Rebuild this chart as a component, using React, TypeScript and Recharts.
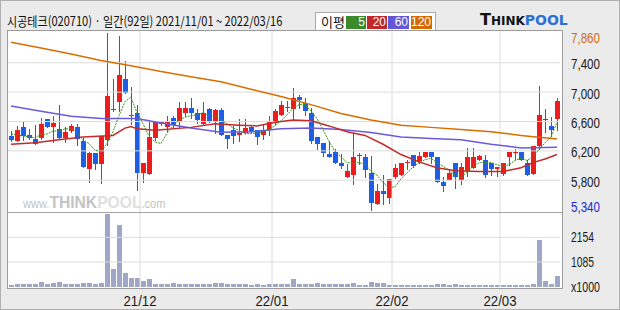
import { Bar, ComposedChart, Line, ReferenceLine, XAxis, YAxis } from 'recharts';

// daily candles, 2021/11/01 ~ 2022/03/16 (92 trading days)
const openP = [
  6400, 6340, 6520, 6420, 6360, 6370, 6630, 6530, 6500, 6370,
  6470, 6520, 6330, 5950, 6170, 6020, 6350, 6750, 6860, 7180,
  6690, 6710, 5900, 5880, 6380, 6570, 6530, 6650, 6590, 6720,
  6780, 6710, 6560, 6770, 6600, 6750, 6420, 6480, 6420, 6450,
  6530, 6490, 6410, 6480, 6580, 6690, 6800, 6770, 6930, 6850,
  6710, 6390, 6310, 6160, 6190, 6040, 5840, 5870, 6130, 6120,
  5900, 5480, 5660, 5560, 5840, 5870, 6030, 6140, 6060, 6120,
  6190, 6120, 5780, 5800, 6040, 5800, 5930, 5960, 6080, 6080,
  6030, 5950, 5880, 6110, 6180, 6190, 6040, 5890, 6260, 6640,
  6540, 6630,
];
const highP = [
  6470, 6540, 6590, 6500, 6550, 6650, 6630, 6680, 6820, 6520,
  6570, 6560, 6380, 6180, 6170, 6400, 7800, 7180, 7770, 7420,
  7070, 6830, 6040, 6610, 6610, 6610, 6670, 6670, 6870, 6870,
  6920, 6770, 6870, 6790, 6770, 6780, 6420, 6540, 6630, 6640,
  6540, 6490, 6550, 6680, 6770, 6880, 6880, 7050, 6960, 6920,
  6790, 6390, 6310, 6340, 6220, 6160, 6020, 6440, 6170, 6160,
  6130, 5750, 5870, 5820, 6020, 6040, 6070, 6140, 6180, 6190,
  6190, 6120, 5840, 5950, 6040, 6040, 6240, 6240, 6150, 6140,
  6030, 5980, 6040, 6190, 6220, 6190, 6080, 6260, 7080, 6770,
  6660, 6920,
];
const lowP = [
  6340, 6330, 6350, 6360, 6300, 6360, 6520, 6320, 6370, 6320,
  6460, 6280, 5980, 5780, 5950, 5760, 6280, 6740, 6740, 6990,
  6560, 5670, 5770, 5880, 6350, 6550, 6470, 6520, 6530, 6670,
  6650, 6580, 6560, 6600, 6440, 6420, 6240, 6310, 6340, 6450,
  6450, 6300, 6360, 6410, 6560, 6690, 6740, 6620, 6790, 6690,
  6310, 6220, 6130, 6110, 6030, 5960, 5840, 5750, 6020, 5840,
  5390, 5470, 5470, 5490, 5830, 5870, 5950, 5980, 6040, 6110,
  6040, 5770, 5650, 5800, 5700, 5750, 5860, 5960, 6070, 5840,
  5870, 5860, 5870, 6010, 6090, 6070, 5870, 5890, 6220, 6460,
  6400, 6490,
];
const closeP = [
  6350, 6490, 6400, 6370, 6300, 6560, 6530, 6580, 6370, 6460,
  6540, 6360, 5980, 6170, 6020, 6400, 6950, 6770, 7240, 6990,
  6680, 5900, 6040, 6390, 6590, 6600, 6590, 6550, 6780, 6780,
  6710, 6620, 6710, 6600, 6760, 6420, 6360, 6400, 6450, 6510,
  6460, 6390, 6490, 6610, 6740, 6830, 6790, 6920, 6890, 6740,
  6340, 6300, 6170, 6110, 6030, 5990, 5920, 6120, 6150, 5940,
  5490, 5650, 5610, 5820, 5970, 6040, 6050, 6000, 6130, 6190,
  6120, 5780, 5720, 5900, 5840, 5980, 6120, 6120, 6130, 5870,
  5950, 5980, 6040, 6190, 6190, 6080, 5870, 6260, 6690, 6630,
  6480, 6880,
];
// volume, x1000 shares
const volume = [
  90, 110, 110, 120, 140, 230, 150, 180, 230, 110,
  110, 110, 190, 190, 120, 190, 3180, 790, 2700, 620,
  400, 400, 240, 350, 130, 130, 130, 170, 150, 150,
  130, 120, 120, 120, 180, 180, 130, 130, 120, 120,
  90, 140, 70, 140, 130, 130, 130, 360, 150, 130,
  150, 170, 150, 140, 130, 140, 130, 190, 70, 100,
  230, 160, 190, 100, 90, 70, 70, 100, 70, 70,
  70, 150, 110, 90, 110, 90, 70, 70, 70, 70,
  70, 70, 70, 100, 100, 70, 100, 150, 2050, 240,
  150, 460,
];
// moving averages
const ma5 = [
  6430, 6420, 6400, 6390, 6380, 6420, 6430, 6470, 6470, 6500,
  6500, 6460, 6340, 6300, 6210, 6190, 6300, 6460, 6680, 6870,
  6930, 6720, 6570, 6400, 6320, 6300, 6440, 6540, 6620, 6660,
  6680, 6690, 6720, 6680, 6680, 6620, 6570, 6510, 6480, 6430,
  6440, 6440, 6460, 6490, 6540, 6610, 6690, 6780, 6830, 6830,
  6740, 6640, 6490, 6330, 6190, 6120, 6040, 6030, 6040, 6020,
  5920, 5870, 5770, 5700, 5710, 5820, 5900, 5980, 6040, 6080,
  6100, 6040, 5990, 5940, 5870, 5840, 5910, 5990, 6040, 6040,
  6040, 6010, 5990, 6010, 6070, 6100, 6070, 6120, 6220, 6310,
  6390, 6590,
];
const ma20Pts: [number, number][] = [
  [0, 6290], [4, 6310], [8, 6350], [12, 6390], [17, 6410], [19, 6510], [20, 6530],
  [21, 6500], [24, 6480], [30, 6520], [34, 6570], [38, 6550], [41, 6540], [44, 6590],
  [47, 6620], [50, 6610], [53, 6540], [56, 6460], [59, 6410], [62, 6290], [65, 6150],
  [68, 6050], [71, 5970], [74, 5930], [78, 5920], [82, 5920], [85, 5970], [87, 6040],
  [89, 6090], [91, 6150],
];
const ma60Pts: [number, number][] = [
  [0, 6810], [5, 6740], [10, 6670], [15, 6640], [21, 6640], [25, 6580], [30, 6510],
  [35, 6455], [40, 6460], [45, 6500], [50, 6510], [55, 6490], [60, 6450], [65, 6390],
  [70, 6370], [75, 6350], [80, 6290], [85, 6240], [91, 6250],
];
const ma120Pts: [number, number][] = [
  [0, 7680], [5, 7600], [10, 7520], [15, 7430], [20, 7360], [25, 7280], [30, 7210],
  [35, 7140], [40, 7040], [45, 6940], [50, 6830], [55, 6710], [60, 6620], [65, 6550],
  [70, 6520], [75, 6490], [80, 6460], [85, 6410], [91, 6360],
];

const priceTicks = [5340, 5800, 6200, 6600, 7000, 7400, 7860];
const priceGrid = [5800, 6200, 6600, 7000, 7400];
const volumeTicks = [0, 1085, 2154];
const monthStarts = [22, 44, 64, 82];
const monthLabels = ['21/12', '22/01', '22/02', '22/03'];

const RED = '#ee1c1c';
const BLUE = '#1e5ee6';
const VOL = '#a0a7c6';
const GRID = '#dcdcdc';
const MA_COLORS = { ma5: '#3a9418', ma20: '#c42a2a', ma60: '#6a5ae0', ma120: '#d96d00' };

const pick = (pts: [number, number][], i: number) => {
  const hit = pts.find((p) => p[0] === i);
  return hit ? hit[1] : null;
};

const rows = openP.map((open, i) => ({
  day: i,
  open,
  high: highP[i],
  low: lowP[i],
  close: closeP[i],
  vol: volume[i],
  ma5: ma5[i],
  ma20: pick(ma20Pts, i),
  ma60: pick(ma60Pts, i),
  ma120: pick(ma120Pts, i),
}));

function Candle(props: any) {
  const { x, y, width, height, payload } = props;
  const { open, close, high, low } = payload;
  const color = close >= open ? RED : BLUE;
  const top = Math.min(y, y + height);
  const h = Math.abs(height);
  const k = high > low ? h / (high - low) : 0;
  const py = (v: number) => top + (high - v) * k;
  const cx = Math.round(x + width / 2);
  const b0 = Math.round(py(Math.max(open, close)));
  const b1 = Math.round(py(Math.min(open, close)));
  return (
    <g shapeRendering="crispEdges">
      <line x1={cx + 0.5} x2={cx + 0.5} y1={Math.round(top)} y2={Math.round(top + h) + 1} stroke={color} />
      <rect x={cx - 2} y={b0} width={5} height={Math.max(1, b1 - b0)} fill={color} />
    </g>
  );
}

function VolBar(props: any) {
  const { x, y, width, height } = props;
  const cx = Math.round(x + width / 2);
  return <rect x={cx - 2} y={y} width={5} height={height} fill={VOL} shapeRendering="crispEdges" />;
}

function PriceTick({ y, payload }: any) {
  const v = payload.value as number;
  const isTop = v === priceTicks[priceTicks.length - 1];
  const isBottom = v === priceTicks[0];
  const shift = isTop ? 9 : isBottom ? -7 : 1.5;
  const fill = isTop ? '#d26a10' : isBottom ? '#1a2ad0' : '#1a1a1a';
  return (
    <text x={571} y={y + shift + 5} fill={fill} fontSize={14} fontFamily="Liberation Sans"
      textLength={29} lengthAdjust="spacingAndGlyphs">
      {v.toLocaleString('en-US')}
    </text>
  );
}

function VolTick({ y, payload }: any) {
  const v = payload.value as number;
  const label = v === 0 ? 'x1000' : String(v);
  return (
    <text x={571} y={y + 5} fill="#1a1a1a" fontSize={14} fontFamily="Liberation Sans"
      textLength={v === 0 ? 29 : 23} lengthAdjust="spacingAndGlyphs">
      {label}
    </text>
  );
}

function DateTick({ x, payload }: any) {
  const idx = monthStarts.indexOf(payload.value);
  if (idx < 0) return null;
  return (
    <text x={x - 3} y={306} textAnchor="middle" fill="#1a1a1a" fontSize={14} fontFamily="Liberation Sans"
      textLength={33} lengthAdjust="spacingAndGlyphs">
      {monthLabels[idx]}
    </text>
  );
}

const legendItems = [
  { label: '5', color: '#3c8a2c', left: 346, w: 20 },
  { label: '20', color: '#c0282b', left: 367, w: 20 },
  { label: '60', color: '#6457d6', left: 388, w: 21 },
  { label: '120', color: '#d46a00', left: 411, w: 21 },
];

const abs = (left: number, top: number, extra: React.CSSProperties = {}): React.CSSProperties => ({
  position: 'absolute',
  left,
  top,
  ...extra,
});

export default function App() {
  return (
    <div style={{ position: 'relative', width: 620, height: 310, background: '#ebebeb', overflow: 'hidden' }}>
      <style>{'body{margin:0}'}</style>
      <div style={abs(0, 0, { width: 620, height: 310, boxSizing: 'border-box', border: '1px solid #b0b0b0' })} />

      <div style={abs(7, 12, {
        fontFamily: '"Noto Sans CJK KR"', fontSize: 13, lineHeight: '18px', color: '#111', whiteSpace: 'nowrap',
        transform: 'scaleX(0.85)', transformOrigin: 'left center',
      })}>
        시공테크(020710) · 일간(92일) 2021/11/01 ~ 2022/03/16
      </div>

      <div style={abs(315, 12, { width: 121, height: 19, boxSizing: 'border-box', border: '1px solid #a8a8a8', background: '#fff' })} />
      <div style={abs(321, 13, { fontFamily: '"Noto Sans CJK KR"', fontSize: 13, lineHeight: '17px', color: '#111' })}>이평</div>
      {legendItems.map((it) => (
        <div key={it.label} style={abs(it.left, 16, {
          width: it.w, height: 13, background: it.color, color: '#fff', fontFamily: 'Liberation Sans',
          fontSize: 12, lineHeight: '13px', textAlign: 'right', paddingRight: 1, boxSizing: 'border-box',
        })}>{it.label}</div>
      ))}

      <div style={abs(480, 11, { fontFamily: 'DejaVu Sans', fontWeight: 'bold', whiteSpace: 'nowrap', lineHeight: '18px' })}>
        <span style={{ fontSize: 16, color: '#111' }}>T</span>
        <span style={{ fontSize: 12, color: '#111' }}>HINK</span>
        <span style={{ fontSize: 14, color: '#2a6fd6' }}>POOL</span>
      </div>

      <div style={abs(8, 31, { width: 554, height: 257, background: '#fff' })} />
      <div style={abs(23, 193, {
        whiteSpace: 'nowrap', fontFamily: 'Liberation Sans', lineHeight: '20px',
        transform: 'scaleX(0.92)', transformOrigin: 'left center',
      })}>
        <span style={{ fontSize: 12, color: '#c4c4c4' }}>www.</span>
        <span style={{ fontSize: 17, fontWeight: 'bold', color: '#c4c4c4' }}>THINK</span>
        <span style={{ fontSize: 17, fontWeight: 'bold', color: '#e0e0e0' }}>POOL</span>
        <span style={{ fontSize: 12, color: '#c4c4c4' }}>.com</span>
      </div>

      <div style={abs(0, 0)}>
        <ComposedChart width={620} height={310} data={rows} barCategoryGap={0}
          margin={{ top: 29, right: 0, bottom: 96, left: 8 }}>
          <XAxis dataKey="day" type="category" hide />
          <YAxis orientation="right" width={60} domain={[5340, 7860]} ticks={priceTicks}
            allowDataOverflow axisLine={false} tickLine={false} tick={<PriceTick />} />
          {priceGrid.map((v) => (
            <ReferenceLine key={v} y={v} stroke={GRID} />
          ))}
          {monthStarts.map((d) => (
            <ReferenceLine key={d} x={d} position="start" stroke={GRID} />
          ))}
          <Bar dataKey={(d: any) => [d.low, d.high]} shape={<Candle />} isAnimationActive={false} />
          <Line dataKey="ma120" stroke={MA_COLORS.ma120} strokeWidth={1.5} dot={false} activeDot={false} connectNulls isAnimationActive={false} />
          <Line dataKey="ma60" stroke={MA_COLORS.ma60} strokeWidth={1.5} dot={false} activeDot={false} connectNulls isAnimationActive={false} />
          <Line dataKey="ma20" stroke={MA_COLORS.ma20} strokeWidth={1.5} dot={false} activeDot={false} connectNulls isAnimationActive={false} />
          <Line dataKey="ma5" stroke={MA_COLORS.ma5} strokeWidth={1} strokeDasharray="2 1" dot={false} activeDot={false} isAnimationActive={false} />
        </ComposedChart>
      </div>

      <div style={abs(0, 0)}>
        <ComposedChart width={620} height={310} data={rows} barCategoryGap={0}
          margin={{ top: 213, right: 0, bottom: 0, left: 8 }}>
          <XAxis dataKey="day" type="category" height={23} ticks={monthStarts} interval={0}
            axisLine={false} tickLine={false} tick={<DateTick />} />
          <YAxis orientation="right" width={60} domain={[0, 3210]} ticks={volumeTicks}
            allowDataOverflow axisLine={false} tickLine={false} tick={<VolTick />} />
          {volumeTicks.slice(1).map((v) => (
            <ReferenceLine key={v} y={v} stroke={GRID} />
          ))}
          {monthStarts.map((d) => (
            <ReferenceLine key={d} x={d} position="start" stroke={GRID} />
          ))}
          <Bar dataKey="vol" shape={<VolBar />} isAnimationActive={false} />
        </ComposedChart>
      </div>

      <div style={abs(8, 212, { width: 554, height: 1, background: '#a4a4a4' })} />
      <div style={abs(7, 30, { width: 556, height: 259, boxSizing: 'border-box', border: '1px solid #9c9c9c' })} />
    </div>
  );
}
